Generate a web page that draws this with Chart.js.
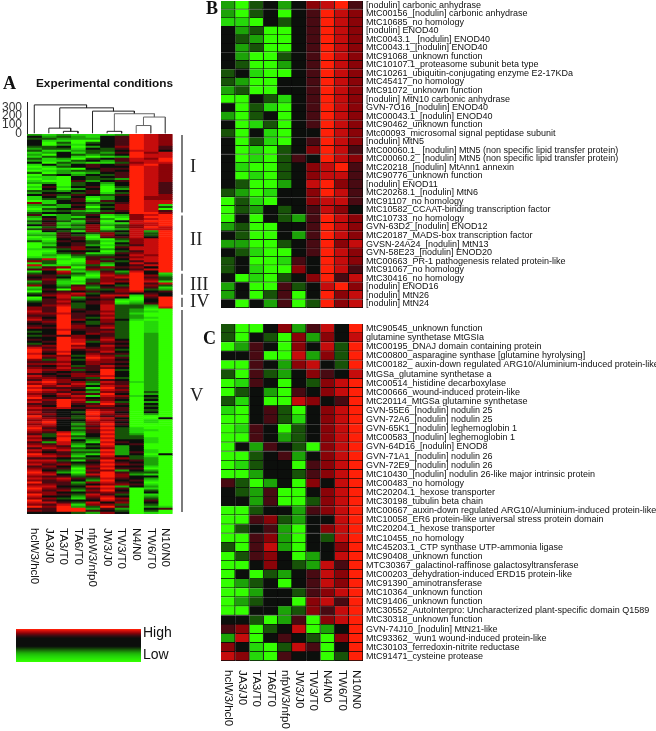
<!DOCTYPE html>
<html><head><meta charset="utf-8">
<style>html,body{margin:0;padding:0;background:#fff;width:656px;height:731px;overflow:hidden}canvas{position:absolute}</style>
<script src="https://cdn.jsdelivr.net/npm/chart.js@4"></script>
</head><body>
<script>
const conditions=['hclW3/hcl0','JA3/J0','TA3/T0','TA6/T0','nfpW3/nfp0','JW3/J0','TW3/T0','N4/N0','TW6/T0','N10/N0'];
// levels: 0 bright green, 4 black, 8 bright red
const clusterI=[
[2,1,2,1,1,1,2,8,7,6],[4,2,3,2,1,4,5,8,7,6],[3,3,2,2,2,4,5,8,7,6],[4,1,1,0,0,4,5,8,7,6],[4,0,3,0,3,4,5,8,7,6],[4,0,2,1,4,4,5,8,7,6],[3,3,4,0,2,4,6,8,7,5],[2,3,3,1,4,3,5,8,7,5],
[3,1,1,2,3,3,4,7,7,4],[1,2,4,1,3,2,5,8,6,7],[2,0,4,3,2,3,4,8,7,7],[1,3,4,1,0,1,2,8,7,7],[3,1,2,0,3,4,5,7,6,8],[2,1,1,3,4,2,5,7,7,8],[4,0,3,2,1,1,3,6,7,7],[1,4,2,4,5,4,5,7,8,6],
[0,1,3,4,5,4,4,8,7,6],[1,0,1,0,4,5,5,8,7,6],[0,1,2,3,3,5,4,8,7,6],[3,0,2,1,2,4,5,8,7,6],[0,3,4,2,4,3,5,8,7,6],[1,1,0,4,3,4,5,8,7,6],[0,1,0,4,3,3,2,8,7,6],[1,0,0,5,2,4,5,8,7,6],
[2,2,0,3,4,2,4,8,7,5],[0,4,0,3,4,1,4,8,7,5],[1,5,1,4,5,0,3,8,7,5],[0,4,0,2,4,0,2,8,7,5],[3,3,2,4,5,0,4,8,7,5],[2,4,4,3,5,1,3,8,7,5],[4,5,3,5,4,3,5,8,7,6],[1,4,2,4,1,2,4,8,6,6],
[1,3,3,5,0,2,4,8,6,6],[0,1,4,5,1,5,4,8,7,7],[6,1,4,4,3,3,5,8,7,7],[2,3,2,5,2,4,6,8,7,1],[1,1,2,4,0,3,6,8,7,3],[0,3,4,5,2,4,6,8,7,0],[1,2,3,2,1,3,5,8,7,5],[3,4,4,3,3,5,4,8,8,6]];
const clusterII=[
[5,1,2,3,5,1,2,6,7,8],[2,4,2,1,4,0,1,6,8,8],[1,5,2,3,5,2,0,6,7,8],[3,4,3,1,5,0,4,7,8,8],[2,5,1,2,4,1,1,7,7,8],[4,5,2,3,6,2,3,6,7,8],[1,3,1,2,6,0,3,6,8,7],[3,5,4,3,6,1,2,7,7,7],
[0,4,3,1,6,3,4,7,2,8],[1,1,5,4,3,6,3,7,3,8],[2,2,5,3,1,6,4,7,3,8],[0,1,5,5,0,5,5,7,4,8],[1,0,4,5,1,0,3,6,7,8],[3,1,5,4,3,1,2,6,7,8],[0,2,4,5,3,0,4,6,7,8],[0,1,4,5,2,1,3,5,7,8],
[0,3,5,6,4,0,5,7,7,8],[1,1,3,6,3,2,4,7,7,8],[0,0,4,4,4,0,3,5,7,8],[0,1,3,5,1,1,5,6,7,8],[0,2,1,3,3,3,4,7,6,8],[1,1,0,2,5,5,5,6,7,8],[3,7,1,0,5,3,4,7,7,8],[6,3,0,0,6,5,3,5,7,8],
[1,3,0,1,6,2,4,7,5,8],[7,1,1,2,3,1,4,5,7,8],[2,5,6,0,5,6,5,6,4,8],[5,6,0,2,6,3,4,5,7,8],[1,4,7,1,2,5,2,7,4,8]];
const clusterIII=[
[3,4,6,3,1,6,3,8,4,1],[5,5,3,2,0,7,6,8,6,2],[4,5,4,0,1,6,7,8,5,3],[5,6,2,0,3,6,5,8,6,3],[2,5,1,1,3,6,6,8,7,1],[3,5,1,0,5,7,4,8,5,7],[6,4,2,5,3,4,3,8,6,3],[1,4,3,6,2,5,5,8,5,1],
[2,5,0,6,3,3,6,8,3,2],[0,4,5,4,5,4,6,7,4,5],[3,5,6,7,3,5,5,4,5,4],[4,6,7,6,4,7,7,1,6,4]];
const clusterIV=[
[0,4,7,2,5,6,4,0,5,8],[1,5,6,3,4,5,1,0,4,8],[3,5,7,4,5,6,0,1,4,8],[4,5,6,3,5,6,1,2,5,8],[4,6,7,3,4,7,3,3,2,8],[6,5,8,3,4,7,3,3,1,7]];
const clusterV=[
[6,5,8,5,4,7,3,2,0,0],[7,5,8,4,5,6,3,2,1,0],[6,6,7,5,5,7,3,1,0,0],[5,5,8,5,4,6,3,2,0,0],[6,4,8,5,3,7,3,2,1,0],[7,5,8,6,4,6,4,1,0,0],[5,6,8,4,3,6,3,0,1,0],[4,5,8,5,3,5,3,0,1,0],
[5,4,8,6,4,6,3,0,1,0],[6,5,8,6,5,7,3,0,1,0],[4,4,7,5,5,5,3,0,1,0],[3,4,8,4,5,6,3,0,1,0],[4,4,8,4,6,5,3,0,2,0],[3,5,5,6,4,5,3,0,2,0],[4,4,8,6,4,6,3,0,2,0],[5,4,8,7,5,7,4,0,2,0],
[4,5,8,7,3,6,5,0,2,0],[3,4,8,8,4,5,4,0,2,0],[5,6,8,6,4,7,5,0,2,0],[7,5,8,7,5,6,4,0,2,0],[8,6,8,5,6,6,3,0,2,0],[8,5,7,4,5,7,4,0,2,0],[7,4,8,4,6,5,5,0,2,0],[8,6,6,3,7,6,3,0,2,0],
[8,5,7,4,8,7,5,0,2,0],[6,3,7,3,7,6,4,0,2,0],[5,5,6,4,6,6,5,0,2,0],[6,6,7,4,6,5,4,0,2,0],[5,4,6,3,5,7,5,0,2,0],[6,5,7,5,5,6,4,0,2,0],[7,6,6,3,5,8,3,0,2,0],[7,5,4,5,4,8,4,0,2,0],
[5,4,5,6,5,8,4,0,2,0],[7,5,4,6,6,7,4,0,2,0],[6,6,5,5,3,8,3,0,2,0],[5,7,6,4,5,5,4,0,2,0],[7,8,6,6,3,7,5,1,2,0],[6,7,5,7,2,6,5,0,2,0],[8,6,7,6,4,7,6,0,2,0],[7,5,5,5,1,8,5,0,2,0],
[8,7,6,4,3,7,6,0,2,0],[7,6,5,6,2,6,5,0,3,0],[6,5,7,5,5,8,4,0,2,0],[7,4,6,7,1,7,6,1,4,0],[8,5,5,6,4,6,5,0,3,0],[6,6,8,7,5,6,4,0,4,0],[7,5,8,6,2,7,3,0,2,0],[5,5,8,5,5,8,5,0,4,0],
[6,4,8,4,6,6,4,0,3,0],[7,6,7,5,5,5,5,0,4,0],[6,5,4,4,7,6,5,0,3,0],[7,5,4,3,8,7,4,0,4,0],[6,6,4,4,8,6,5,0,2,0],[8,5,4,3,7,5,6,0,0,0],[7,6,5,3,8,7,4,0,0,4],[6,7,4,4,7,6,5,0,1,0],
[7,8,4,3,6,7,4,0,1,0],[6,7,4,2,6,8,5,0,0,0],[7,6,4,3,5,7,4,0,0,0],[8,5,4,2,6,8,3,1,0,0],[7,6,4,3,5,7,3,1,1,0],[6,5,7,2,5,8,3,1,0,0],[5,3,8,1,4,7,3,2,0,0],[7,3,7,3,4,8,3,3,0,0],
[6,4,8,2,3,7,3,3,1,0],[7,5,8,4,2,8,4,4,1,0],[5,2,7,3,1,7,5,4,1,0],[6,5,7,2,4,8,4,5,0,0],[7,6,5,1,3,7,2,4,0,0],[5,7,6,3,4,6,2,4,0,0],[7,5,7,2,2,8,2,4,1,0],[6,4,5,3,3,7,2,5,1,0],
[8,6,5,2,1,8,2,4,0,4],[7,7,6,1,4,7,4,3,1,0],[5,5,4,3,3,6,6,3,2,0],[7,7,3,1,5,8,4,5,2,0],[6,6,5,4,4,7,5,4,2,0],[7,5,6,3,5,8,6,5,2,0],[5,6,4,2,6,7,4,4,1,0],[6,5,5,0,5,8,5,5,0,0],
[7,4,3,1,6,6,2,4,2,0],[8,6,2,0,5,8,5,3,3,0],[7,7,4,2,7,8,6,2,1,0],[6,5,5,3,5,8,6,4,4,0],[7,6,7,5,3,7,5,4,2,0],[6,5,6,4,2,8,4,5,1,0],[8,5,5,2,6,7,5,4,0,0],[6,6,5,3,4,6,6,5,1,0],
[7,7,4,4,7,8,2,4,2,0],[8,6,5,3,5,7,5,0,1,0],[7,5,6,2,6,8,4,0,3,0],[6,6,4,4,5,6,5,0,4,0],[8,6,5,3,7,5,3,0,1,0],[7,4,4,2,6,7,4,0,2,0],[6,6,3,1,5,8,6,0,3,0],[8,5,4,4,4,7,5,0,5,0],
[7,7,5,3,7,4,6,0,4,0],[6,5,7,1,6,6,3,0,3,0],[8,6,8,2,3,8,5,0,2,1],[5,5,8,8,2,5,2,0,4,5],[6,5,8,8,5,4,3,0,3,0],[4,4,4,3,2,6,4,0,1,0]];
const heatA=[...clusterI,...clusterII,...clusterIII,...clusterIV,...clusterV];
const genesB=['[nodulin] carbonic anhydrase','MtC00156_[nodulin] carbonic anhydrase','MtC10685_no homology','[nodulin] ENOD40','MtC0043.1_ [nodulin] ENOD40','MtC0043.1_[nodulin] ENOD40','MtC91068_unknown function','MtC10107.1_proteasome subunit beta type','MtC10261_ubiquitin-conjugating enzyme E2-17KDa','MtC45417_no homology','MtC91072_unknown function','[nodulin] MtN10 carbonic anhydrase','GVN-7O16_[nodulin] ENOD40','MtC00043.1_[nodulin] ENOD40','MtC90462_unknown function','Mtc00093_microsomal signal peptidase subunit','[nodulin] MtN5','MtC00060.1_ [nodulin] MtN5 (non specific lipid transfer protein)','MtC00060.2_ [nodulin] MtN5 (non specific lipid transfer protein)','MtC20218_[nodulin] MtAnn1 annexin','MtC90776_unknown function','[nodulin] ENOD11','MtC20268.1_[nodulin] MtN6','MtC91107_no homology','MtC10582_CCAAT-binding transcription factor','MtC10733_no homology','GVN-63D2_[nodulin] ENOD12','MtC20187_MADS-box transcription factor','GVSN-24A24_[nodulin] MtN13','GVN-58E23_[nodulin] ENOD20','MtC00663_PR-1 pathogenesis related protein-like','MtC91067_no homology','MtC30416_no homology','[nodulin] ENOD16','[nodulin] MtN26','[nodulin] MtN24'];
const heatB=[
[2,0,3,4,2,4,6,7,8,5],[2,0,3,4,0,4,5,8,7,6],[1,1,0,4,3,4,5,8,7,6],[4,2,3,0,0,4,5,8,7,6],[4,3,2,0,0,4,5,8,7,6],[4,2,3,0,0,4,5,8,7,6],[4,2,0,0,3,4,5,8,7,6],[4,3,0,0,2,4,5,8,7,6],[3,4,1,0,0,4,5,8,7,6],
[3,2,0,0,4,4,5,8,7,6],[2,3,0,0,4,4,5,8,7,6],[0,0,4,3,1,4,5,8,7,6],[4,0,3,1,0,4,5,8,7,6],[2,0,3,4,0,4,5,8,7,6],[4,0,1,3,0,4,5,8,7,6],[3,0,4,1,0,4,4,8,7,6],[4,0,3,1,0,4,5,8,7,6],[4,0,1,0,3,4,6,8,7,5],
[4,0,1,0,3,5,4,8,7,6],[4,1,0,0,3,4,6,7,8,5],[4,0,1,0,3,4,6,7,7,5],[4,3,0,0,2,4,7,8,6,5],[3,2,0,1,4,4,6,8,7,5],[0,3,1,0,4,4,6,7,7,5],[0,3,2,4,3,4,5,7,6,4],[0,4,0,4,3,2,5,8,7,6],[2,3,0,0,4,4,5,8,7,6],
[4,3,0,0,4,2,5,8,7,6],[2,2,0,0,3,4,5,8,6,7],[4,3,1,0,0,4,5,8,7,6],[3,4,0,0,1,5,4,8,7,6],[3,4,1,0,0,6,4,8,7,5],[4,0,1,0,3,4,6,8,5,7],[2,4,0,0,5,3,4,7,8,6],[2,4,0,3,5,0,4,8,6,7],[4,0,4,2,5,0,3,8,6,7]];
const genesC=['MtC90545_unknown function','glutamine synthetase MtGSIa','MtC00195_DNAJ domain containing protein','MtC00800_asparagine synthase [glutamine hyrolysing]','MtC00182_ auxin-down regulated ARG10/Aluminium-induced protein-like','MtGSa_glutamine synthetase a','MtC00514_histidine decarboxylase','MtC00666_wound-induced protein-like','MtC20114_MtGSa glutamine synthetase','GVN-55E6_[nodulin] nodulin 25','GVN-72A6_[nodulin] nodulin 25','GVN-65K1_[nodulin] leghemoglobin 1','MtC00583_[nodulin] leghemoglobin 1','GVN-64D16_[nodulin] ENOD8','GVN-71A1_[nodulin] nodulin 26','GVN-72E9_[nodulin] nodulin 26','MtC10430_[nodulin] nodulin 26-like major intrinsic protein','MtC00483_no homology','MtC20204.1_hexose transporter','MtC30198_tubulin beta chain','MtC00667_auxin-down regulated ARG10/Aluminium-induced protein-like','MtC10058_ER6 protein-like universal stress protein domain','MtC20204.1_hexose transporter','MtC10455_no homology','MtC45203.1_CTP synthase UTP-ammonia ligase','MtC90408_unknown function','MTC30367_galactinol-raffinose galactosyltransferase','MtC00203_dehydration-induced ERD15 protein-like','MtC91390_aminotransferase','MtC10364_unknown function','MtC91406_unknown function','MtC30552_AutoInterpro: Uncharacterized plant-specific domain Q1589','MtC30318_unknown function','GVN-74J10_[nodulin] MtN21-like','MtC93362_ wun1 wound-induced protein-like','MtC30103_ferredoxin-nitrite reductase','MtC91471_cysteine protease'];
const heatC=[
[3,0,0,4,6,2,5,7,4,8],[3,0,4,3,0,6,2,6,4,7],[0,2,5,4,0,6,4,7,3,8],[4,4,5,0,0,7,2,6,3,8],[0,0,5,4,2,6,7,4,3,8],[3,0,5,3,2,4,6,5,4,7],[0,1,5,4,0,4,3,6,7,8],[0,3,4,2,0,5,4,6,7,8],[3,1,4,0,0,7,6,4,5,8],
[1,0,4,5,3,0,4,6,7,8],[0,0,4,5,3,1,4,6,7,8],[0,1,5,4,0,3,4,6,7,8],[0,0,5,4,2,3,4,6,7,8],[0,4,2,5,4,3,0,6,7,8],[0,0,3,4,5,2,4,6,7,8],[0,1,3,4,4,0,5,6,7,8],[0,0,2,4,4,3,5,6,7,8],[5,3,0,2,4,0,6,4,7,8],
[4,3,2,5,0,0,4,6,7,8],[4,4,2,5,0,0,3,6,7,8],[0,0,3,4,4,2,5,6,7,8],[0,0,5,6,3,2,4,4,7,8],[0,3,4,5,2,0,4,6,7,8],[0,0,5,6,2,0,4,3,7,8],[3,0,5,7,2,0,4,4,6,8],[0,3,5,6,4,0,2,4,7,8],[0,0,4,6,4,3,2,7,5,8],[0,4,0,3,2,4,5,7,6,8],[0,2,3,4,0,4,5,7,6,8],
[0,0,2,4,4,3,5,6,7,8],[0,2,3,4,4,0,6,7,5,8],[0,0,4,4,2,3,6,5,7,8],[4,4,3,0,2,5,0,6,7,8],[5,6,0,3,4,7,0,2,4,8],[2,7,0,4,5,4,3,0,6,8],[6,4,1,0,3,7,5,0,4,8],[7,6,1,0,5,4,4,0,3,8]];
const legendLevels=[8,7.5,7,6.5,6,5.5,5,4.6,4.3,4,4,4,4,4,4,4,4,4,3.7,3.4,3,2.7,2.4,2.1,1.8,1.5,1.3,1.1,.9,.7,.5,.3,0];
const legendLabels=['','','','','High','','','','','','','','','','','','','','','','','','','','','','Low','','','','','',''];
const dendroTicks=[0,100,200,300];
// leftX,leftHeight,rightX,rightHeight,mergeHeight
const dendroLinks=[[2.5,0,3.5,0,25],[1.5,0,3,25,62],[5.5,0,6.5,0,25],[7.5,0,8.5,0,92],[8,92,9.5,0,190],[6,25,8.75,190,228],[4.5,0,7.375,228,258],[2.25,62,5.94,258,296],[0.5,0,4.09,296,330]];
const sections=[['I',clusterI],['II',clusterII],['III',clusterIII],['IV',clusterIV],['V',clusterV]];

const stops=[[51,255,0],[37,216,10],[28,163,8],[23,83,8],[12,15,12],[72,10,18],[138,3,8],[197,12,12],[255,32,8]];
function col(v){const a=Math.floor(v),b=Math.min(8,a+1),t=v-a;const c=stops[a].map((s,i)=>Math.round(s+(stops[b][i]-s)*t));return `rgb(${c})`;}
const sans='"Liberation Sans"',serif='"Liberation Serif"';
function make(left,top,w,h,cfg){const c=document.createElement('canvas');c.width=w;c.height=h;c.style.cssText=`left:${left}px;top:${top}px;width:${w}px;height:${h}px`;document.body.appendChild(c);
 cfg.options=Object.assign({responsive:false,animation:false,devicePixelRatio:1,events:[]},cfg.options);
 cfg.options.plugins=Object.assign({legend:{display:false},tooltip:{enabled:false},title:{display:false}},cfg.options.plugins);
 return new Chart(c.getContext('2d'),cfg);}
const none={display:false};
function heatData(rows,border){return conditions.map((name,c)=>({label:name,data:rows.map(()=>1),backgroundColor:rows.map(r=>col(r[c])),borderColor:'#0a0a0a',borderWidth:border?{right:1,bottom:1}:0,borderSkipped:false,barPercentage:1,categoryPercentage:1,xAxisID:'x',yAxisID:'y'}));}
// condition labels read downward from just below the heat map, anchored on the x2 axis ticks
const columnLabels={id:'columnLabels',afterDraw(ch,args,o){const s=ch.scales.x2,c=ch.ctx;if(!s)return;c.save();c.fillStyle='#111';c.font=`11.5px ${sans}`;c.textAlign='left';c.textBaseline='middle';
 s.ticks.forEach((t,i)=>{c.save();c.translate(s.getPixelForTick(i),s.top+o.gap);c.rotate(Math.PI/2);c.fillText(t.label,0,0);c.restore();});c.restore();}};
function heat(rows,genes,opt){
 const scales={x:{type:'linear',stacked:true,min:0,max:10,display:false},
  y:{type:'category',stacked:true,labels:genes,position:'right',offset:true,display:!!opt.yW,grid:{display:false,drawTicks:false},border:none,afterFit:s=>{s.width=opt.yW||0},ticks:{autoSkip:false,padding:3,color:'#111',font:{family:sans,size:opt.geneSize||9}}}};
 if(opt.xH)scales.x2={type:'category',labels:conditions,position:'bottom',offset:true,grid:{display:false,drawTicks:false},border:none,afterFit:s=>{s.height=opt.xH},ticks:{display:false,autoSkip:false}};
 return {type:'bar',data:{labels:genes,datasets:heatData(rows,opt.border)},options:{indexAxis:'y',layout:{padding:opt.pad},scales,plugins:{columnLabels:{gap:opt.xPad||0}}},plugins:[columnLabels].concat(opt.plugins||[])};
}
const notes={id:'notes',afterDraw(ch){const c=ch.ctx,y=ch.scales.y;c.save();c.fillStyle='#111';c.textBaseline='middle';
 c.font=`bold 11.8px ${sans}`;c.textAlign='left';c.fillText('Experimental conditions',36,84);
 c.font=`bold 18px ${serif}`;c.fillText('A',3,84);c.fillText('B',206,9);c.fillText('C',203,339);
 const h=(y.bottom-y.top)/heatA.length;let r=0;
 sections.forEach(([name,rows])=>{const a=y.top+r*h,b=a+rows.length*h;r+=rows.length;
  c.strokeStyle='#444';c.lineWidth=1.4;c.beginPath();c.moveTo(182,a+1);c.lineTo(182,b-2);c.stroke();
  c.fillStyle='#222';c.font=`18.5px ${serif}`;c.fillText(name,190,name==='IV'?302:name==='III'?285:(name==='V'?396:(a+b)/2-(name==='I'?7:3)));});
 c.restore();}};
make(0,0,221,620,heat(heatA,heatA.map((_,i)=>'r'+i),{pad:{left:27,right:48.4,top:134,bottom:0},xH:106,xPad:14,plugins:[notes]}));
make(215,-20,441,340,heat(heatB,genesB,{pad:{left:6,right:0,top:21,bottom:12},yW:293,border:true}));
make(215,300,441,431,heat(heatC,genesC,{pad:{left:6,right:0,top:24,bottom:0},yW:293,xH:70,xPad:9,border:true}));
// dendrogram
make(0,90,180,60,{type:'scatter',data:{datasets:dendroLinks.map(([a,ah,b,bh,m])=>({data:[{x:a,y:ah},{x:a,y:m},{x:b,y:m},{x:b,y:bh}],showLine:true,pointRadius:0,borderColor:a>=6?'#666':'#222',borderWidth:1,tension:0}))},
 options:{layout:{padding:{left:0,right:7.4,top:12.3,bottom:16.5}},scales:{x:{type:'linear',min:0,max:10,display:false},
 y:{type:'linear',min:0,max:360,grid:{display:false,drawTicks:false},border:{display:true,color:'#222'},afterFit:s=>{s.width=27},afterBuildTicks:s=>{s.ticks=dendroTicks.map(value=>({value}))},ticks:{autoSkip:false,padding:5,color:'#333',font:{family:sans,size:12}}}}}});
// colour key
make(6,615,200,60,{type:'bar',data:{labels:legendLabels,datasets:[{data:legendLevels.map(()=>1),backgroundColor:legendLevels.map(col),barPercentage:1,categoryPercentage:1,borderWidth:0}]},
 options:{indexAxis:'y',layout:{padding:{left:10,right:0,top:14,bottom:13}},scales:{x:{type:'linear',min:0,max:1,display:false},
 y:{type:'category',position:'right',offset:true,grid:{display:false,drawTicks:false},border:none,afterFit:s=>{s.width=65},ticks:{autoSkip:false,padding:2,color:'#111',font:{family:sans,size:14}}}}}});
</script>
</body></html>
